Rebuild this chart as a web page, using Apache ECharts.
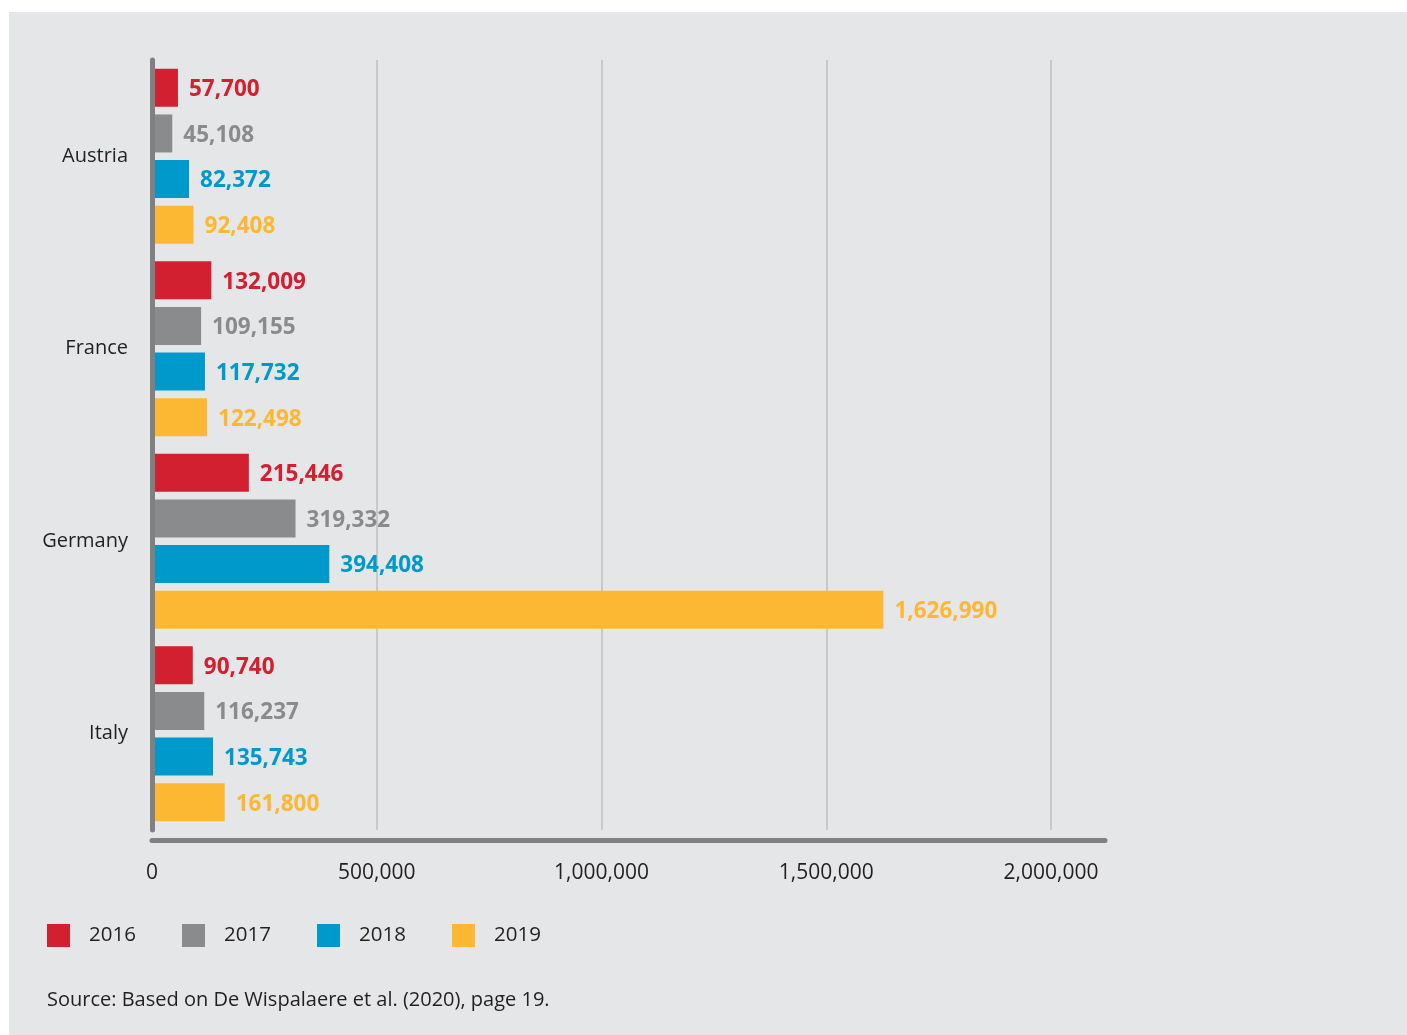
<!DOCTYPE html>
<html>
<head>
<meta charset="utf-8">
<script src="https://cdn.jsdelivr.net/npm/echarts@6/dist/echarts.min.js"></script>
<style>
html, body { margin: 0; padding: 0; background: #ffffff; width: 1407px; height: 1035px; overflow: hidden; }
#chart { position: absolute; left: 9px; top: 12px; width: 1398px; height: 1023px; background: #e5e6e8; }
</style>
</head>
<body>
<div id="chart"></div>
<script>
const categories = ['Austria', 'France', 'Germany', 'Italy'];
const years = ['2016', '2017', '2018', '2019'];
const values2016 = [57700, 132009, 215446, 90740];
const values2017 = [45108, 109155, 319332, 116237];
const values2018 = [82372, 117732, 394408, 135743];
const values2019 = [92408, 122498, 1626990, 161800];
const xTicks = [0, 500000, 1000000, 1500000, 2000000];
const colors = ['#d22030', '#8a8b8d', '#0099cc', '#fdb833'];
const sourceText = 'Source: Based on De Wispalaere et al. (2020), page 19.';

const FONT = '"Open Sans", "Noto Sans", sans-serif';
const seriesValues = [values2016, values2017, values2018, values2019];
const fmt = v => v.toLocaleString('en-US');

const chart = echarts.init(document.getElementById('chart'));
const legendLefts = [33, 168, 303, 438];

chart.setOption({
  animation: false,
  textStyle: { fontFamily: FONT },
  title: {
    text: sourceText,
    left: 33,
    top: 971,
    textStyle: { fontFamily: FONT, fontSize: 20, fontWeight: 'normal', color: '#231f20', lineHeight: 24 }
  },
  legend: years.map((y, i) => ({
    data: [y],
    left: legendLefts[i],
    top: 907,
    itemWidth: 23,
    itemHeight: 23,
    icon: 'rect',
    textStyle: { fontFamily: FONT, fontSize: 20.5, color: '#231f20', padding: [0, 0, 0, 14] }
  })),
  grid: { left: 143, right: 302, top: 48, bottom: 205, containLabel: false },
  xAxis: {
    type: 'value',
    min: xTicks[0],
    max: 2120000,
    interval: xTicks[1] - xTicks[0],
    offset: 10,
    axisLine: { show: true, lineStyle: { color: '#808080', width: 5 } },
    axisTick: { show: false },
    axisLabel: {
      fontFamily: FONT, fontSize: 21, color: '#231f20', margin: 23,
      showMaxLabel: false,
      formatter: v => xTicks.includes(v) ? fmt(v) : ''
    },
    splitLine: { show: true, showMinLine: false, showMaxLine: false, lineStyle: { color: '#c8c9cb', width: 2 } }
  },
  yAxis: {
    type: 'category',
    data: categories,
    inverse: true,
    z: 5,
    axisLine: { show: true, lineStyle: { color: '#808080', width: 5 } },
    axisTick: { show: false },
    axisLabel: { fontFamily: FONT, fontSize: 20, color: '#231f20', margin: 24, padding: [3, 0, 0, 0] },
    splitLine: { show: false }
  },
  series: years.map((y, i) => ({
    name: y,
    type: 'bar',
    data: seriesValues[i],
    barWidth: 38,
    barGap: '20%',
    itemStyle: { color: colors[i] },
    label: {
      show: true,
      position: 'right',
      distance: 11,
      offset: [0, 2],
      fontFamily: FONT,
      fontSize: 22.5,
      fontWeight: 'bold',
      color: colors[i],
      formatter: p => fmt(p.value)
    }
  }))
});
</script>
</body>
</html>
